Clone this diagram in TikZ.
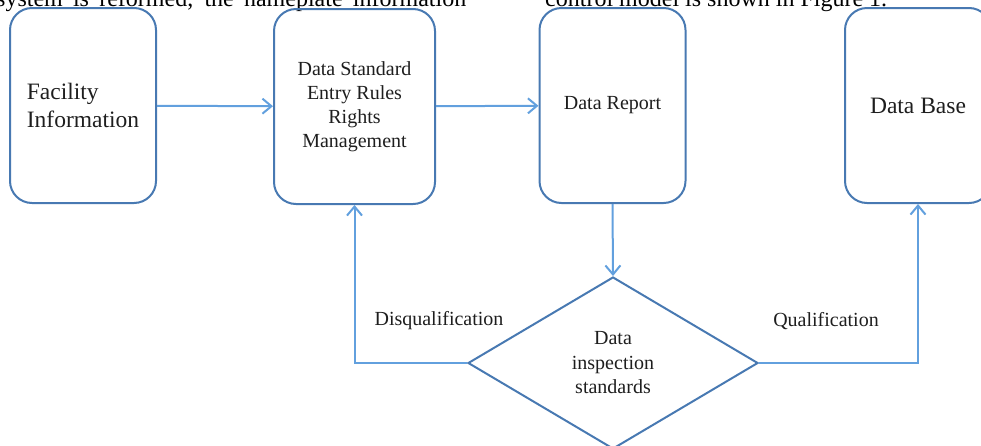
\documentclass[tikz,border=0pt]{standalone}
\usepackage{fontspec}
\setmainfont{Liberation Serif}
\usetikzlibrary{shapes.geometric,arrows.meta}
\definecolor{boxblue}{RGB}{72,121,178}
\definecolor{arrblue}{RGB}{98,160,222}
\definecolor{txt}{RGB}{30,30,30}
\begin{document}
\begin{tikzpicture}[x=1pt,y=-1pt,
  box/.style={draw=boxblue,line width=2pt,rounded corners=22pt,minimum width=146pt,minimum height=195pt,inner sep=0pt,align=center,text=txt},
  arr/.style={draw=arrblue,line width=2pt,-{Straight Barb[length=9pt,width=15pt]}},
  lab/.style={text=txt,font=\fontsize{20}{24}\selectfont,inner sep=0pt},
  toptext/.style={anchor=base west,inner sep=0pt,font=\fontsize{24}{28}\selectfont}]
\useasboundingbox (0,0) rectangle (981,445);
\clip (0,0) rectangle (981,445);
% cut-off page text at the top
\node[toptext] (t1) at (-4,6) {\makebox[470pt][s]{system is reformed, the nameplate information}};
\node[toptext] (t2) at (545,6) {control model is shown in Figure 1.};
% boxes
\node[box,font=\fontsize{23.5}{28}\selectfont,align=left] (b1) at (83,105.5) {Facility\\Information};
\node[box,minimum width=161pt,font=\fontsize{20}{24}\selectfont] (b2) at (354.5,106.5) {Data Standard\\Entry Rules\\Rights\\Management};
\node[box,font=\fontsize{20}{24}\selectfont] (b3) at (612.5,105.5) {Data Report};
\node[box,font=\fontsize{23.5}{28}\selectfont] (b4) at (918,105.5) {Data Base};
% decision
\node[diamond,draw=boxblue,line width=2pt,minimum width=290pt,minimum height=172pt,inner sep=0pt,align=center,text=txt,font=\fontsize{20}{24.5}\selectfont] (dia) at (613,363) {Data\\inspection\\standards};
% connectors
\draw[arr] (b1) -- (b2);
\draw[arr] (b2) -- (b3);
\draw[arr] (b3.south) -- (dia.north);
\draw[arr] (dia.west) -| (b2.south);
\draw[arr] (dia.east) -| (b4.south);
% labels
\node[lab] (dq) at (439,321) {Disqualification};
\node[lab] (q) at (826,321) {Qualification};
\end{tikzpicture}
\end{document}
